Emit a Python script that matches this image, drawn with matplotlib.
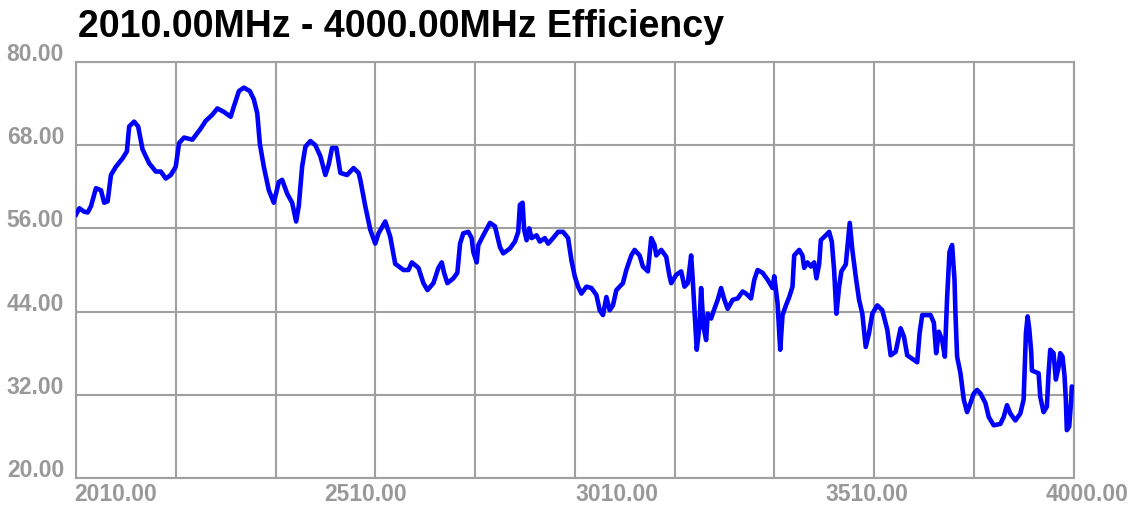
import numpy as np
import matplotlib
matplotlib.use("Agg")
import matplotlib.pyplot as plt
from matplotlib.transforms import blended_transform_factory, offset_copy

title = "2010.00MHz - 4000.00MHz Efficiency"

freq_mhz = [
    2010, 2016.6, 2026.5, 2033.3, 2039.9, 2049.8, 2059.8, 2066.3, 2073.1, 2079.7,
    2089.6, 2102.9, 2111.5, 2116.1, 2126.0, 2134.0, 2142.7, 2155.9, 2169.2, 2179.2,
    2189.1, 2199.1, 2209.0, 2215.6, 2225.5, 2242.2, 2258.8, 2268.7, 2282.0, 2292.0,
    2305.1, 2318.5, 2325.0, 2335.0, 2344.9, 2356.9, 2364.8, 2371.6, 2376.8, 2384.7,
    2394.7, 2404.6, 2414.6, 2421.3, 2431.3, 2441.2, 2449.2, 2454.4, 2461.1, 2467.7,
    2477.7, 2487.6, 2497.6, 2507.5, 2514.1, 2520.8, 2529.4, 2537.4, 2550.7, 2563.8,
    2573.8,
    2577.2, 2587.1, 2597.1, 2607.0, 2613.6, 2626.9, 2636.9, 2646.8, 2663.3, 2673.3,
    2680.0, 2693.2, 2703.1, 2711.1, 2723.0, 2733.0, 2739.7, 2744.3, 2750.9, 2762.8,
    2770.8, 2776.2, 2782.7, 2792.7, 2799.4, 2802.6, 2809.4, 2812.6, 2822.5, 2835.9,
    2845.8, 2855.8, 2862.3, 2875.7, 2885.6, 2892.2, 2895.6, 2900.9, 2904.1, 2908.9,
    2914.1, 2918.8, 2928.8, 2935.4, 2945.3, 2951.9, 2961.8, 2971.8, 2981.7, 2991.7,
    2998.4, 3005.0, 3011.6, 3018.3, 3028.3, 3038.2, 3048.2, 3054.8, 3061.3, 3068.1,
    3074.7, 3081.2, 3088.0, 3101.1, 3107.9, 3117.8, 3124.4, 3134.4,
    3140.9, 3150.9, 3157.6, 3164.2, 3167.6, 3177.5, 3187.5, 3194.1, 3197.4, 3207.4,
    3217.3, 3223.9, 3230.5, 3237.2, 3240.4, 3243.8, 3248.4, 3253.8, 3257.1, 3261.7,
    3267.1, 3270.3, 3277.0, 3283.6, 3290.2, 3296.9, 3303.5, 3310.1, 3320.0, 3330.0,
    3339.9, 3346.7, 3356.6, 3363.2, 3369.8, 3379.7, 3389.7, 3399.6, 3403.0, 3409.6,
    3414.9, 3419.5, 3426.3, 3432.9, 3439.4, 3442.8, 3452.8, 3459.3, 3462.7, 3469.3,
    3476.0, 3482.6, 3487.2, 3492.6, 3495.9, 3505.9, 3512.5, 3517.8, 3522.4, 3527.0,
    3532.4, 3536.9, 3545.7, 3548.9, 3553.6, 3558.8, 3565.5,
    3572.2, 3578.7, 3585.5, 3592.1, 3598.6, 3608.6, 3618.5, 3628.5, 3635.2, 3645.2,
    3655.1, 3661.7, 3668.3, 3678.2, 3688.2, 3693.0, 3698.2, 3714.9, 3721.4, 3726.0,
    3731.4, 3737.9, 3743.3, 3747.9, 3752.6, 3757.8, 3762.6, 3764.5, 3767.8, 3774.5,
    3781.1, 3787.7, 3794.4, 3801.0, 3807.6, 3814.4, 3824.3, 3830.9, 3840.8, 3854.1,
    3860.7, 3867.3, 3874.0, 3884.0, 3893.9, 3900.5, 3902.5, 3905.1, 3908.5, 3911.9,
    3915.8, 3917.0, 3923.8, 3930.4, 3933.7, 3940.3, 3946.9, 3950.3, 3953.6, 3960.2,
    3964.8, 3970.2, 3973.5, 3978.1, 3982.1, 3984.7, 3986.7, 3991.4, 3995.4, 3996.6,
    4000,
]

efficiency = [
    58.0, 58.9, 58.4, 58.3, 59.2, 61.8, 61.5, 59.7, 59.9, 63.7,
    64.9, 66.1, 67.1, 70.7, 71.4, 70.7, 67.4, 65.4, 64.2, 64.2,
    63.2, 63.7, 64.9, 68.3, 69.1, 68.8, 70.4, 71.5, 72.4, 73.3,
    72.8, 72.1, 73.6, 75.8, 76.3, 75.8, 74.6, 72.6, 68.2, 64.9,
    61.5, 59.7, 62.7, 63.0, 61.0, 59.7, 57.0, 59.2, 64.9, 67.8,
    68.6, 68.0, 66.4, 63.7, 65.2, 67.6, 67.6, 64.0, 63.7, 64.7,
    64.0,
    63.0, 59.2, 55.8, 53.8, 55.3, 57.0, 54.8, 50.9, 50.0, 50.0,
    51.1, 50.3, 48.1, 47.1, 48.1, 50.3, 51.1, 49.6, 48.1, 48.8,
    49.6, 53.8, 55.3, 55.5, 54.6, 52.6, 51.1, 53.6, 55.0, 56.8,
    56.3, 53.3, 52.4, 53.1, 54.1, 55.5, 59.4, 59.7, 55.8, 54.3,
    56.0, 54.6, 55.0, 54.1, 54.6, 53.8, 54.6, 55.5, 55.5, 54.6,
    51.4, 49.1, 47.6, 46.6, 47.6, 47.4, 46.4, 44.2, 43.5, 46.1,
    44.2, 44.9, 47.1, 48.1, 50.0, 52.1, 52.9, 52.1,
    50.5, 49.8, 54.6, 53.6, 52.1, 52.9, 51.9, 49.1, 48.1, 49.3,
    49.8, 47.6, 48.1, 52.1, 48.6, 44.2, 38.5, 41.9, 47.4, 41.9,
    39.9, 43.7, 43.0, 44.4, 45.7, 47.4, 45.7, 44.4, 45.7, 45.9,
    46.9, 46.6, 45.9, 48.6, 50.0, 49.6, 48.6, 47.4, 49.1, 45.2,
    38.5, 43.5, 44.9, 46.1, 47.6, 52.1, 52.9, 52.1, 50.3, 51.1,
    50.5, 51.1, 48.8, 50.9, 54.3, 55.0, 55.5, 54.1, 50.0, 43.7,
    47.6, 49.8, 50.8, 53.3, 56.8, 52.9, 49.1,
    45.7, 43.7, 38.9, 40.9, 43.7, 44.9, 44.2, 41.4, 37.7, 38.2,
    41.6, 40.4, 37.7, 37.2, 36.7, 40.9, 43.5, 43.5, 42.4, 38.0,
    41.1, 39.9, 37.5, 46.1, 52.6, 53.6, 48.6, 43.7, 37.5, 35.1,
    31.3, 29.5, 30.8, 32.2, 32.7, 32.2, 30.8, 28.8, 27.6, 27.8,
    28.8, 30.5, 29.3, 28.3, 29.3, 31.3, 35.5, 40.9, 43.3, 41.4,
    38.0, 35.5, 35.3, 35.1, 31.7, 29.5, 30.3, 35.1, 38.5, 38.0,
    34.2, 36.0, 38.0, 37.5, 34.7, 31.3, 26.9, 27.4, 31.3, 33.2,
    33.0,
]

y_ticks = [20, 32, 44, 56, 68, 80]
y_tick_labels = ["20.00", "32.00", "44.00", "56.00", "68.00", "80.00"]
x_label_values = [2010, 2510, 3010, 3510, 4000]
x_tick_labels = ["2010.00", "2510.00", "3010.00", "3510.00", "4000.00"]
x_min, x_max = 2010, 4000

W, H = 1138, 509
fig = plt.figure(figsize=(W / 100, H / 100), dpi=100)
fig.patch.set_facecolor("white")
ax = fig.add_axes([76 / W, 31 / H, 997.5 / W, 416 / H])

grid_c = "#a0a0a0"
label_c = "#999999"
font = "Liberation Sans"

ax.plot(freq_mhz, efficiency, color="#0000ff", lw=3.3,
        solid_joinstyle="round", zorder=3)
ax.set_xlim(x_min, x_max)
ax.set_ylim(y_ticks[0], y_ticks[-1])
ax.set_xticks(np.linspace(x_min, x_max, 11))
ax.set_yticks(y_ticks)
ax.grid(True, color=grid_c, lw=1.5, zorder=1)
ax.tick_params(length=0, labelbottom=False, labelleft=False)
for s in ax.spines.values():
    s.set_color(grid_c)
    s.set_linewidth(1.5)

ytr = offset_copy(blended_transform_factory(ax.transAxes, ax.transData),
                  fig=fig, x=-12, y=1, units="dots")
for v, lab in zip(y_ticks, y_tick_labels):
    ax.text(0, v, lab, transform=ytr, ha="right", va="baseline",
            fontsize=16.5, fontweight="bold", color=label_c, family=font)

for v, lab in zip(x_label_values, x_tick_labels):
    if v == x_max:
        tr = offset_copy(blended_transform_factory(ax.transData, ax.transAxes),
                         fig=fig, x=55, y=-23, units="dots")
        ha = "right"
    else:
        tr = offset_copy(blended_transform_factory(ax.transData, ax.transAxes),
                         fig=fig, x=-2, y=-23, units="dots")
        ha = "left"
    ax.text(v, 0, lab, transform=tr, ha=ha, va="baseline", fontsize=16.5,
            fontweight="bold", color=label_c, family=font, clip_on=False)

fig.text(78 / W, 1 - 37 / H, title, ha="left", va="baseline", fontsize=27,
         fontweight="bold", color="black", family=font)

fig.savefig("out.png", dpi=100, facecolor="white")
